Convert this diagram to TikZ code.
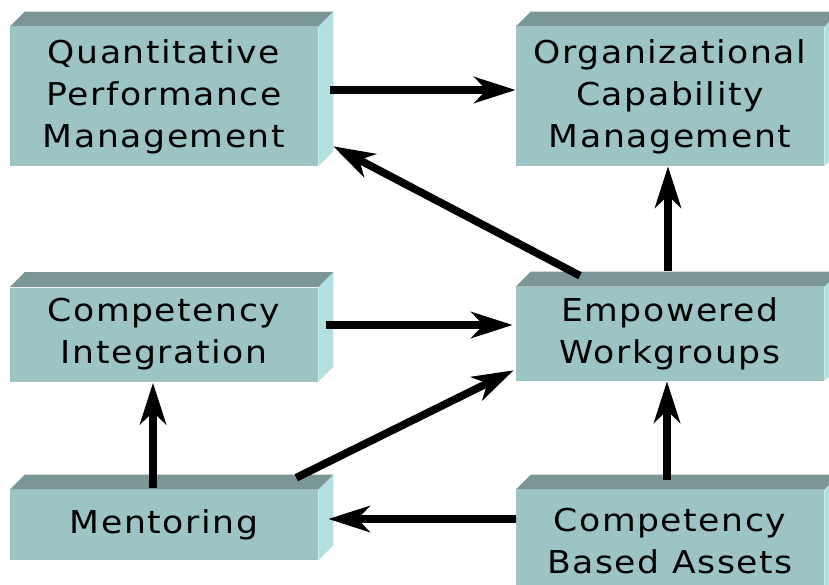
\documentclass[tikz,border=0pt]{standalone}
\usepackage{fontspec}
\setmainfont{DejaVu Sans}[FakeStretch=1.1,LetterSpace=5]
\usepackage{xcolor}
\usepackage{tikz}
\usetikzlibrary{arrows.meta}

\definecolor{frontcol}{RGB}{156,196,196}
\definecolor{topcol}{RGB}{122,150,150}
\definecolor{sidecol}{RGB}{178,224,224}

\begin{document}
\begin{tikzpicture}[x=0.75pt,y=-0.75pt,
    block/.style={fill=frontcol, inner sep=0pt, minimum width=231pt, align=center,
        font=\fontsize{23.6}{31.5}\selectfont},
    topface/.style={fill=topcol},
    sideface/.style={fill=sidecol},
    flow/.style={line width=5.8pt, -{Stealth[length=31pt,width=19.5pt,inset=9pt]}}]
    \useasboundingbox (0,0) rectangle (829,585);
    \clip (0,0) rectangle (829,585);

    % front faces
    \node[block, minimum height=104.25pt] (qpm) at (164,96.5) {Quantitative\\Performance\\Management};
    \node[block, minimum height=104.25pt] (ocm) at (670,96.5) {Organizational\\Capability\\Management};
    \node[block, minimum height=70.5pt] (ci) at (164,334.5) {Competency\\Integration};
    \node[block, minimum height=70.5pt] (ew) at (670,334) {Empowered\\Workgroups};
    \node[block, minimum height=52.5pt] (men) at (164,525) {Mentoring};
    \node[block, minimum height=76.5pt] (cba) at (670,541) {Competency\\Based Assets};

    % top and right faces
    \foreach \n in {qpm,ocm,ci,ew,men,cba} {
        \fill[topface] (\n.north west) -- ++(15,-15) -- ([shift={(15,-15)}]\n.north east) -- (\n.north east) -- cycle;
        \fill[sideface] (\n.north east) -- ++(15,-15) -- ([shift={(15,-15)}]\n.south east) -- (\n.south east) -- cycle;
    }

    % flechas
    \draw[flow] ([shift={(12,-6.5)}]qpm.east) -- ([shift={(0,-6.5)}]ocm.west);
    \draw[flow] ([shift={(-90,-11)}]ew.north) -- ([shift={(15,-20)}]qpm.south east);
    \draw[flow] ([shift={(-2,-16)}]ew.north) -- ([shift={(-2,0)}]ocm.south);
    \draw[flow] ([shift={(8,-9.5)}]ci.east) -- ([shift={(-3,-9)}]ew.west);
    \draw[flow] ([shift={(-22,-12)}]men.north east) -- ([shift={(-2,-11)}]ew.south west);
    \draw[flow] ([shift={(-3,-10)}]cba.north) -- ([shift={(-3,0)}]ew.south);
    \draw[flow] ([shift={(0,-22)}]cba.west) -- ([shift={(10,-6)}]men.east);
    \draw[flow] ([shift={(-11,-2)}]men.north) -- ([shift={(-11,1)}]ci.south);
\end{tikzpicture}
\end{document}
